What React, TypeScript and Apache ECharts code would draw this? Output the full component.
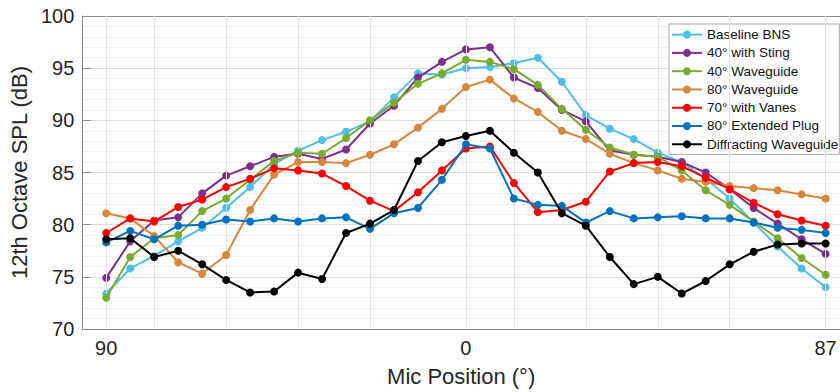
import React, { useEffect, useRef } from 'react';
import * as echarts from 'echarts';

// Measurement index (1..31) – the axis is drawn by index, labelled 90 / 0 / 87
const positionIndex = [1, 2, 3, 4, 5, 6, 7, 8, 9, 10, 11, 12, 13, 14, 15, 16, 17, 18, 19, 20, 21, 22, 23, 24, 25, 26, 27, 28, 29, 30, 31];
const tickPositions = [1, 16, 31];
const tickLabels = ['90', '0', '87'];
const gridPositions = [1, 3, 6, 9, 12, 16, 18, 21, 24, 27, 31];

const seriesNames = [
  'Baseline BNS',
  '40° with Sting',
  '40° Waveguide',
  '80° Waveguide',
  '70° with Vanes',
  '80° Extended Plug',
  'Diffracting Waveguide',
];

const baselineBNS = [73.4, 75.8, 77.0, 78.4, 79.7, 81.6, 83.6, 85.8, 87.1, 88.1, 88.9, 89.9, 92.2, 94.5, 94.4, 95.0, 95.1, 95.5, 96.0, 93.7, 90.5, 89.2, 88.2, 86.9, 86.0, 84.4, 82.5, 80.2, 77.9, 75.8, 74.0];
const sting40 = [74.9, 78.4, 80.4, 80.7, 83.0, 84.7, 85.6, 86.5, 86.8, 86.3, 87.2, 89.7, 91.4, 94.1, 95.6, 96.8, 97.0, 94.1, 93.1, 91.0, 89.9, 87.1, 86.7, 86.5, 86.0, 85.0, 83.4, 81.6, 80.1, 78.6, 77.2];
const waveguide40 = [73.0, 76.9, 78.7, 79.0, 81.3, 82.5, 84.3, 86.1, 86.9, 86.8, 88.3, 90.0, 91.7, 93.5, 94.5, 95.8, 95.6, 94.9, 93.4, 91.1, 89.1, 87.4, 86.7, 86.5, 85.2, 83.3, 81.9, 80.3, 78.7, 76.8, 75.2];
const waveguide80 = [81.1, 80.6, 78.9, 76.4, 75.3, 77.1, 81.4, 84.8, 86.0, 86.0, 85.9, 86.7, 87.7, 89.3, 91.1, 93.2, 93.9, 92.1, 90.8, 89.0, 88.2, 86.8, 85.9, 85.2, 84.4, 84.1, 83.7, 83.5, 83.3, 82.9, 82.5];
const vanes70 = [79.2, 80.6, 80.3, 81.7, 82.4, 83.6, 84.4, 85.4, 85.2, 84.9, 83.7, 82.3, 81.3, 83.1, 85.2, 87.3, 87.5, 84.0, 81.2, 81.4, 82.2, 85.1, 85.9, 86.0, 85.6, 84.5, 83.4, 82.1, 81.0, 80.4, 79.9];
const extendedPlug80 = [78.3, 79.4, 78.6, 79.9, 80.0, 80.5, 80.3, 80.6, 80.3, 80.6, 80.7, 79.6, 81.1, 81.6, 84.3, 87.7, 87.3, 82.5, 81.9, 81.8, 80.2, 81.3, 80.6, 80.7, 80.8, 80.6, 80.6, 80.2, 79.7, 79.5, 79.2];
const diffracting = [78.6, 78.7, 76.9, 77.5, 76.2, 74.7, 73.5, 73.6, 75.4, 74.8, 79.2, 80.1, 81.4, 86.1, 87.9, 88.5, 89.0, 86.9, 85.0, 81.1, 79.9, 76.9, 74.3, 75.0, 73.4, 74.6, 76.2, 77.4, 78.1, 78.2, 78.2];

const seriesValues = [baselineBNS, sting40, waveguide40, waveguide80, vanes70, extendedPlug80, diffracting];
const seriesColors = ['#4DBEEE', '#7E2F8E', '#77AC30', '#D8863B', '#FF0000', '#0072BD', '#000000'];

const FONT = 'Liberation Sans';

export default function App() {
  const ref = useRef<HTMLDivElement>(null);

  useEffect(() => {
    if (!ref.current) return;
    const chart = echarts.init(ref.current, undefined, { renderer: 'svg' });

    const labelFor = (v: number) => {
      const i = tickPositions.indexOf(v);
      return i >= 0 ? tickLabels[i] : '';
    };

    const dataSeries = seriesValues.map((vals, s) => ({
      name: seriesNames[s],
      type: 'line',
      data: vals.map((v, i) => [positionIndex[i], v]),
      symbol: 'circle',
      symbolSize: 8,
      color: seriesColors[s],
      lineStyle: { width: 2, color: seriesColors[s] },
      itemStyle: { color: seriesColors[s] },
      z: 3 + s,
    }));

    const gridSeries = {
      name: '__grid',
      type: 'line',
      data: [],
      z: 1,
      silent: true,
      markLine: {
        silent: true,
        symbol: 'none',
        label: { show: false },
        lineStyle: { color: '#e3e3e3', width: 1, type: 'solid' },
        data: gridPositions.map((p) => ({ xAxis: p })),
        animation: false,
      },
    };

    chart.setOption({
      animation: false,
      backgroundColor: '#ffffff',
      grid: { left: 75, right: 0, top: 16, bottom: 57, containLabel: false },
      xAxis: [
        {
          type: 'value',
          min: 0,
          max: 31.6,
          position: 'bottom',
          name: 'Mic Position (°)',
          nameLocation: 'middle',
          nameGap: 36,
          nameTextStyle: { fontSize: 22, color: '#262626', fontFamily: FONT },
          axisLine: { show: true, onZero: false, lineStyle: { color: '#8a8a8a', width: 1 } },
          axisTick: { show: true, inside: true, length: 8, customValues: tickPositions, lineStyle: { color: '#8a8a8a' } },
          axisLabel: {
            show: true,
            customValues: tickPositions,
            formatter: (v: number) => labelFor(v),
            fontSize: 20,
            color: '#262626',
            fontFamily: FONT,
            margin: 9,
          },
          splitLine: { show: false },
        },
        {
          type: 'value',
          min: 0,
          max: 31.6,
          position: 'top',
          axisLine: { show: true, onZero: false, lineStyle: { color: '#8a8a8a', width: 1 } },
          axisTick: { show: true, inside: true, length: 8, customValues: tickPositions, lineStyle: { color: '#8a8a8a' } },
          axisLabel: { show: false },
          splitLine: { show: false },
        },
      ],
      yAxis: {
        type: 'value',
        min: 70,
        max: 100,
        interval: 5,
        name: '12th Octave SPL (dB)',
        nameLocation: 'middle',
        nameGap: 49,
        nameTextStyle: { fontSize: 22, color: '#262626', fontFamily: FONT },
        axisLine: { show: true, lineStyle: { color: '#8a8a8a', width: 1 } },
        axisTick: { show: true, inside: true, length: 8, lineStyle: { color: '#8a8a8a' } },
        axisLabel: { fontSize: 20, color: '#262626', fontFamily: FONT, margin: 8 },
        splitLine: { show: true, lineStyle: { color: '#dedede', width: 1 } },
        minorTick: { show: false, splitNumber: 5 },
        minorSplitLine: { show: true, lineStyle: { color: '#eeeeee', width: 1 } },
      },
      legend: {
        orient: 'vertical',
        left: 669,
        top: 24,
        data: seriesNames,
        itemWidth: 30,
        itemHeight: 10,
        itemGap: 0,
        backgroundColor: '#ffffff',
        borderColor: '#a8a8a8',
        borderWidth: 1,
        borderRadius: 0,
        padding: [1.5, 1, 1, 2],
        textStyle: { fontSize: 13.5, color: '#111111', fontFamily: FONT, lineHeight: 18.27 },
      },
      series: [gridSeries, ...dataSeries],
    });

    return () => chart.dispose();
  }, []);

  return <div ref={ref} style={{ width: 840, height: 392, position: 'absolute', left: 0, top: 0 }} />;
}
